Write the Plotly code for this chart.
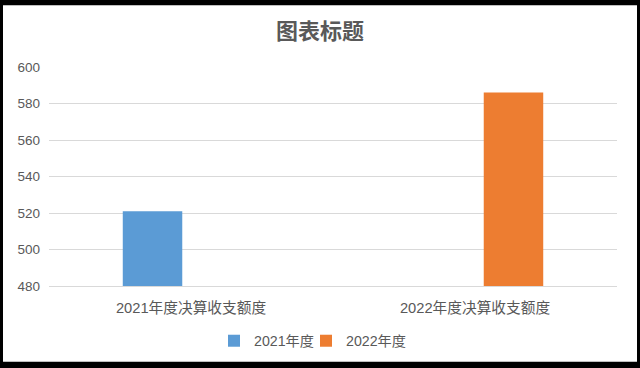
import plotly.graph_objects as go

categories = ["2021年度决算收支额度", "2022年度决算收支额度"]
series_names = ["2021年度", "2022年度"]
series_x = [[categories[0]], [categories[1]]]
series_values = [[521], [586]]
colors = ["#5B9BD5", "#ED7D31"]
y_ticks = [480, 500, 520, 540, 560, 580, 600]

FONT = "Liberation Sans, Arial, Noto Sans CJK SC, sans-serif"
GRAY = "#595959"

legend_ids = ["legend", "legend2"]

fig = go.Figure()
for i, (name, xs, vals, c) in enumerate(zip(series_names, series_x, series_values, colors)):
    fig.add_trace(go.Bar(x=xs, y=vals, name=name, offsetgroup=str(i), legend=legend_ids[i],
                         marker=dict(color=c, line=dict(width=0))))

# plot area geometry in px
L, R, T, B = 49, 617, 67, 287
W, H = 640, 368
pw, ph = R - L, B - T

def px_x(px):
    return (px - L) / pw

def px_y(py):
    return (B - py) / ph

fig.add_shape(type="rect", xref="paper", yref="paper",
              x0=px_x(3), x1=px_x(637), y0=px_y(363), y1=px_y(5),
              fillcolor="white", line=dict(width=0), layer="below")

leg_common = dict(orientation="h", yanchor="middle", y=px_y(341), xanchor="left",
                  font=dict(size=14.2, color=GRAY), bgcolor="rgba(0,0,0,0)", itemwidth=30)

fig.update_layout(
    width=W, height=H,
    margin=dict(l=L, r=W - R, t=T, b=H - B, pad=0),
    paper_bgcolor="black",
    plot_bgcolor="white",
    barmode="group",
    bargap=0.458,
    bargroupgap=0.227,
    font=dict(family=FONT, size=14, color=GRAY),
    title=dict(text="<b>图表标题</b>", x=0.5, xanchor="center", y=1 - 31 / H, yanchor="middle",
               font=dict(family="Noto Sans CJK SC, sans-serif", size=22, color=GRAY)),
    legend=dict(x=px_x(214), **leg_common),
    legend2=dict(x=px_x(306), **leg_common),
    showlegend=True,
)
fig.update_xaxes(type="category", categoryorder="array", categoryarray=categories,
                 showgrid=False, showline=True, linecolor="#D9D9D9", linewidth=1,
                 ticks="", tickfont=dict(size=14.7, color=GRAY), ticklabelstandoff=8)
fig.update_yaxes(range=[480, 600], tickvals=y_ticks, showgrid=True, gridcolor="#D9D9D9",
                 gridwidth=1, zeroline=False, showline=False, ticks="",
                 tickfont=dict(size=13.5, color=GRAY), ticklabelstandoff=8)

fig.write_html("out.html", config={"displayModeBar": False},
               post_script="document.body.style.margin='0';document.body.style.padding='0';")
